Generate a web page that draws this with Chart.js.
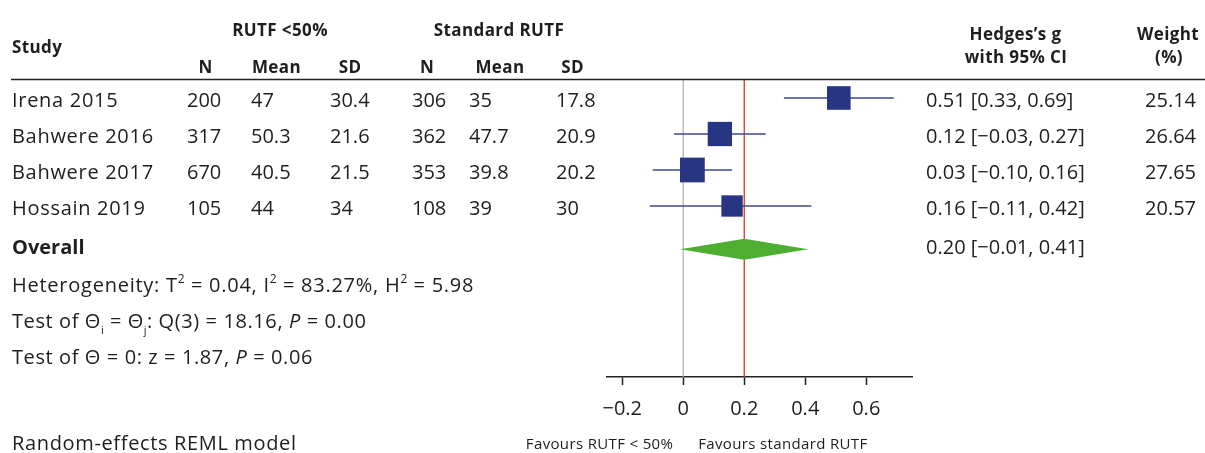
<!DOCTYPE html>
<html>
<head>
<meta charset="utf-8">
<script src="https://cdn.jsdelivr.net/npm/chart.js@4.4.1/dist/chart.umd.min.js"></script>
<style>
  html, body { margin: 0; padding: 0; background: #ffffff; }
  #wrap { position: relative; width: 1205px; height: 453px; }
</style>
</head>
<body>
<div id="wrap"><canvas id="c" width="1205" height="453"></canvas></div>
<script>
// ---------------- data ----------------
const STUDIES = ['Irena 2015', 'Bahwere 2016', 'Bahwere 2017', 'Hossain 2019'];
const N1 = [200, 317, 670, 105];
const MEAN1 = [47, 50.3, 40.5, 44];
const SD1 = [30.4, 21.6, 21.5, 34];
const N2 = [306, 362, 353, 108];
const MEAN2 = [35, 47.7, 39.8, 39];
const SD2 = [17.8, 20.9, 20.2, 30];
const G = [0.51, 0.12, 0.03, 0.16];
const CI_LO = [0.33, -0.03, -0.10, -0.11];
const CI_HI = [0.69, 0.27, 0.16, 0.42];
const WEIGHT = [25.14, 26.64, 27.65, 20.57];
const OVERALL_G = 0.20;
const OVERALL_LO = -0.01;
const OVERALL_HI = 0.41;
const HET_T2 = 0.04, HET_I2 = 83.27, HET_H2 = 5.98;
const Q_DF = 3, Q_STAT = 18.16, Q_P = 0.00;
const Z_STAT = 1.87, Z_P = 0.06;
const X_TICKS = [-0.2, 0, 0.2, 0.4, 0.6];
const X_TICK_LABELS = ['\u22120.2', '0', '0.2', '0.4', '0.6'];

// ---------------- layout / style ----------------
const FONT = "'Open Sans', 'Noto Sans', sans-serif";
const TEXT = '#1e1e1e';
const SQUARE = '#283583';
const CI_COL = '#3d4892';
const DIAMOND = '#4dae32';
const RED = '#d8391d';
const GREY = '#b3b3b3';
const STUDY_ROWS = [0, 1, 2, 3];
const OVERALL_ROW = 4.2;
const STAT_ROWS = [5.13, 6.14, 7.15];
const Y_MIN = -0.5, Y_MAX = 7.75;
const X_MIN = -0.25, X_MAX = 0.75;
const COLS = { name: 12, n1: 187, m1: 251, s1: 330, n2: 412, m2: 469, s2: 556, g: 926, w: 1196 };

const fmt2 = v => (v < 0 ? '\u2212' + Math.abs(v).toFixed(2) : v.toFixed(2));
const ciText = (g, lo, hi) => `${fmt2(g)} [${fmt2(lo)}, ${fmt2(hi)}]`;
const sideFromWeight = w => 24.3 * Math.sqrt(w / 26.64);

// ---------------- datasets ----------------
const datasets = [];
datasets.push({ type: 'line', data: [{x: 0, y: Y_MIN}, {x: 0, y: Y_MAX}], borderColor: GREY, borderWidth: 1.3, pointRadius: 0, order: 5 });
datasets.push({ type: 'line', data: [{x: OVERALL_G, y: Y_MIN}, {x: OVERALL_G, y: Y_MAX}], borderColor: RED, borderWidth: 1.3, pointRadius: 0, order: 4 });
STUDIES.forEach((s, i) => {
  datasets.push({ type: 'line', data: [{x: CI_LO[i], y: STUDY_ROWS[i]}, {x: CI_HI[i], y: STUDY_ROWS[i]}],
    borderColor: CI_COL, borderWidth: 1.6, pointRadius: 0, order: 3 });
});
datasets.push({ type: 'scatter', data: STUDIES.map((s, i) => ({x: G[i], y: STUDY_ROWS[i]})),
  pointStyle: 'rect', pointRadius: WEIGHT.map(w => sideFromWeight(w) / Math.SQRT2),
  pointHoverRadius: WEIGHT.map(w => sideFromWeight(w) / Math.SQRT2),
  backgroundColor: SQUARE, borderColor: SQUARE, borderWidth: 0, order: 1 });
const DH = 0.29;
datasets.push({ type: 'line', data: [{x: OVERALL_LO, y: OVERALL_ROW}, {x: OVERALL_G, y: OVERALL_ROW - DH}, {x: OVERALL_HI, y: OVERALL_ROW}],
  borderWidth: 0, borderColor: DIAMOND, backgroundColor: DIAMOND, pointRadius: 0, fill: '+1', tension: 0, order: 2 });
datasets.push({ type: 'line', data: [{x: OVERALL_LO, y: OVERALL_ROW}, {x: OVERALL_G, y: OVERALL_ROW + DH}, {x: OVERALL_HI, y: OVERALL_ROW}],
  borderWidth: 0, borderColor: DIAMOND, backgroundColor: DIAMOND, pointRadius: 0, fill: false, tension: 0, order: 2 });

// ---------------- text plugin ----------------
function setLS(ctx, v) { if ('letterSpacing' in ctx) ctx.letterSpacing = v + 'px'; }

function drawRich(ctx, segs, x, y, size, ls) {
  let cx = x;
  segs.forEach(s => {
    let fs = size, dy = 0, style = '';
    if (s.k === 'sup') { fs = size * 0.6; dy = -size * 0.42; }
    if (s.k === 'sub') { fs = size * 0.55; dy = size * 0.3; }
    if (s.k === 'it') { style = 'italic '; }
    ctx.font = `${style}${fs}px ${FONT}`;
    setLS(ctx, s.k === 'sup' || s.k === 'sub' ? 0.3 : ls);
    ctx.fillText(s.t, cx, y + dy);
    cx += ctx.measureText(s.t).width;
  });
  setLS(ctx, 0);
}

const tablePlugin = {
  id: 'table',
  afterDraw(chart) {
    const ctx = chart.ctx;
    const ys = chart.scales.y;
    ctx.save();
    ctx.fillStyle = TEXT;
    ctx.textBaseline = 'alphabetic';

    // header
    ctx.font = `bold 17px ${FONT}`;
    setLS(ctx, 0.4);
    ctx.textAlign = 'left';
    ctx.fillText('Study', COLS.name, 53);
    ctx.textAlign = 'center';
    ctx.fillText('RUTF <50%', 280, 36);
    ctx.fillText('Standard RUTF', 499, 36);
    [['N', 205.5], ['Mean', 276.5], ['SD', 350], ['N', 427], ['Mean', 500], ['SD', 572.5]].forEach(([t, x]) => ctx.fillText(t, x, 73));
    ctx.fillText('Hedges\u2019s g', 1015.5, 40);
    ctx.fillText('with 95% CI', 1016, 63);
    ctx.fillText('Weight', 1168, 40);
    ctx.fillText('(%)', 1169, 63);
    setLS(ctx, 0);

    // header rule
    ctx.strokeStyle = '#222';
    ctx.lineWidth = 1.5;
    ctx.beginPath();
    ctx.moveTo(11, 79.5);
    ctx.lineTo(1205, 79.5);
    ctx.stroke();

    // study rows
    ctx.font = `20px ${FONT}`;
    STUDIES.forEach((s, i) => {
      const by = ys.getPixelForValue(STUDY_ROWS[i]) + 9;
      ctx.textAlign = 'left';
      setLS(ctx, 0.7);
      ctx.fillText(s, COLS.name, by);
      setLS(ctx, 0);
      ctx.fillText(String(N1[i]), COLS.n1, by);
      ctx.fillText(String(MEAN1[i]), COLS.m1, by);
      ctx.fillText(String(SD1[i]), COLS.s1, by);
      ctx.fillText(String(N2[i]), COLS.n2, by);
      ctx.fillText(String(MEAN2[i]), COLS.m2, by);
      ctx.fillText(String(SD2[i]), COLS.s2, by);
      ctx.fillText(ciText(G[i], CI_LO[i], CI_HI[i]), COLS.g, by);
      ctx.textAlign = 'right';
      ctx.fillText(WEIGHT[i].toFixed(2), COLS.w, by);
    });

    // overall
    const oy = ys.getPixelForValue(OVERALL_ROW) + 5;
    ctx.textAlign = 'left';
    ctx.font = `bold 20px ${FONT}`;
    ctx.fillText('Overall', COLS.name, oy);
    ctx.font = `20px ${FONT}`;
    ctx.fillText(ciText(OVERALL_G, OVERALL_LO, OVERALL_HI), COLS.g, oy);

    // statistics
    const s1 = ys.getPixelForValue(STAT_ROWS[0]) + 9;
    const s2 = ys.getPixelForValue(STAT_ROWS[1]) + 9;
    const s3 = ys.getPixelForValue(STAT_ROWS[2]) + 9;
    drawRich(ctx, [
      {t: 'Heterogeneity: T'}, {t: '2', k: 'sup'}, {t: ` = ${HET_T2.toFixed(2)}, I`}, {t: '2', k: 'sup'},
      {t: ` = ${HET_I2.toFixed(2)}%, H`}, {t: '2', k: 'sup'}, {t: ` = ${HET_H2.toFixed(2)}`}
    ], COLS.name, s1, 20, 0.75);
    drawRich(ctx, [
      {t: 'Test of \u0398'}, {t: 'i', k: 'sub'}, {t: ' = \u0398'}, {t: 'j', k: 'sub'},
      {t: `: Q(${Q_DF}) = ${Q_STAT.toFixed(2)}, `}, {t: 'P', k: 'it'}, {t: ` = ${Q_P.toFixed(2)}`}
    ], COLS.name, s2, 20, 0.6);
    drawRich(ctx, [
      {t: `Test of \u0398 = 0: z = ${Z_STAT.toFixed(2)}, `}, {t: 'P', k: 'it'}, {t: ` = ${Z_P.toFixed(2)}`}
    ], COLS.name, s3, 20, 0.6);

    // footer
    ctx.font = `20px ${FONT}`;
    ctx.textAlign = 'left';
    setLS(ctx, 0.65);
    ctx.fillText('Random-effects REML model', COLS.name, 450);
    const x0 = chart.scales.x.getPixelForValue(0);
    ctx.font = `15px ${FONT}`;
    setLS(ctx, 0.35);
    ctx.textAlign = 'right';
    ctx.fillText('Favours RUTF < 50%', x0 - 10, 449);
    ctx.textAlign = 'left';
    ctx.fillText('Favours standard RUTF', x0 + 15, 449);
    setLS(ctx, 0);
    ctx.restore();
  }
};

new Chart(document.getElementById('c'), {
  type: 'scatter',
  data: { datasets },
  options: {
    responsive: false,
    animation: false,
    events: [],
    layout: { padding: { left: 607, right: 293, top: 80, bottom: 0 } },
    plugins: { legend: { display: false }, tooltip: { enabled: false } },
    scales: {
      x: {
        type: 'linear', position: 'bottom', min: X_MIN, max: X_MAX,
        afterBuildTicks: axis => { axis.ticks = X_TICKS.map(v => ({ value: v })); },
        afterFit: scale => { scale.height = 76; },
        ticks: {
          autoSkip: false, maxRotation: 0, padding: 12, color: TEXT,
          font: { family: FONT, size: 20 },
          callback: (v) => { const i = X_TICKS.findIndex(t => Math.abs(t - v) < 1e-9); return i >= 0 ? X_TICK_LABELS[i] : ''; }
        },
        grid: { drawOnChartArea: false, drawTicks: true, tickLength: 8, tickWidth: 1.5, tickColor: '#222' },
        border: { display: true, color: '#222', width: 1.5 }
      },
      y: { type: 'linear', display: false, reverse: true, min: Y_MIN, max: Y_MAX }
    }
  },
  plugins: [tablePlugin]
});
</script>
</body>
</html>
